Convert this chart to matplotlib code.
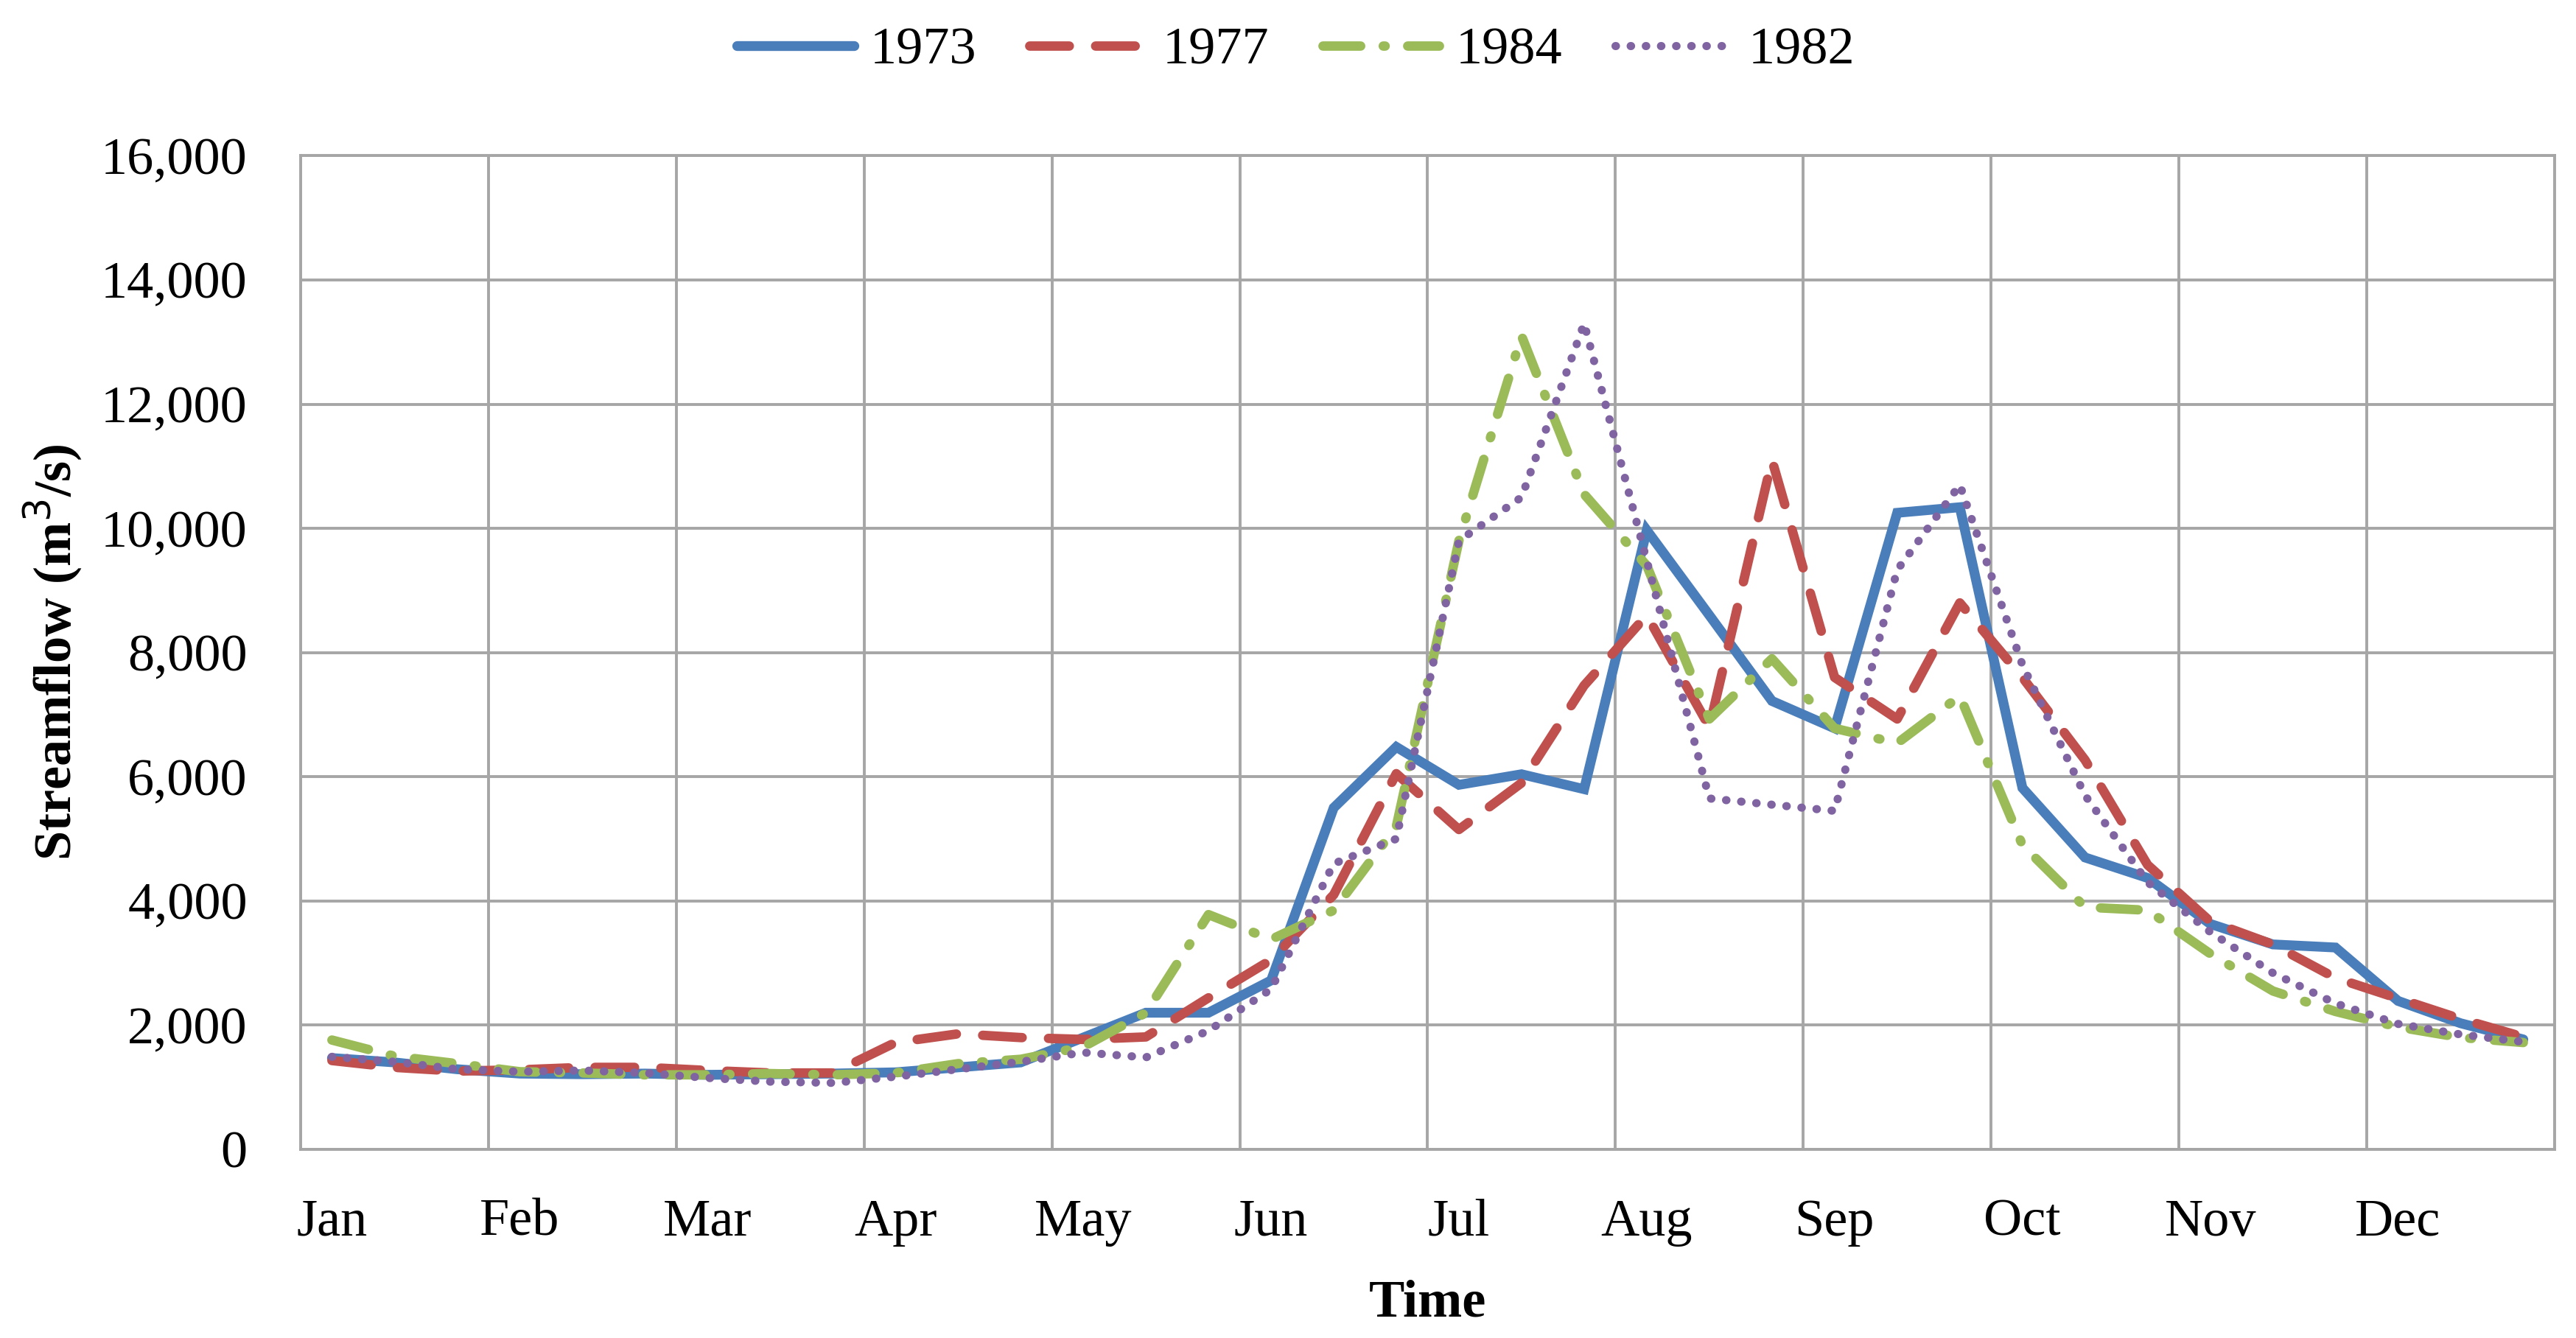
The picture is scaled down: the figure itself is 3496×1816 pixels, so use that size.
import numpy as np
import matplotlib
matplotlib.use("Agg")
import matplotlib.pyplot as plt

# ten-day (dekad) streamflow, 3 values per month
months = ["Jan", "Feb", "Mar", "Apr", "May", "Jun",
          "Jul", "Aug", "Sep", "Oct", "Nov", "Dec"]

flow_1973 = [1470, 1400, 1290, 1220, 1210, 1220, 1200, 1210, 1220,
             1240, 1320, 1400, 1800, 2200, 2200, 2720, 5500, 6480,
             5870, 6040, 5800, 9970, 8600, 7220, 6780, 10250, 10340,
             5820, 4700, 4370, 3630, 3300, 3250, 2390, 2030, 1770]

flow_1977 = [1430, 1320, 1260, 1280, 1320, 1320, 1270, 1230, 1230,
             1720, 1860, 1800, 1770, 1810, 2440, 3050, 4100, 6050,
             5150, 5900, 7470, 8600, 6800, 11100, 7600, 6930, 8800,
             7600, 6270, 4580, 3670, 3300, 2760, 2430, 2100, 1810]

flow_1984 = [1760, 1500, 1380, 1250, 1230, 1200, 1200, 1220, 1200,
             1230, 1380, 1450, 1650, 2200, 3780, 3380, 3850, 5200,
             9800, 13100, 10550, 9400, 6930, 7900, 6780, 6540, 7300,
             4900, 3900, 3850, 3150, 2550, 2220, 1970, 1800, 1720]

flow_1982 = [1490, 1410, 1290, 1250, 1270, 1230, 1150, 1090, 1070,
             1170, 1290, 1410, 1560, 1480, 1910, 2580, 4600, 5000,
             9800, 10500, 13300, 9480, 5650, 5550, 5450, 9330, 10700,
             7800, 5700, 4300, 3500, 2840, 2350, 2020, 1850, 1730]

y_ticks = [0, 2000, 4000, 6000, 8000, 10000, 12000, 14000, 16000]

plt.rcParams['font.family'] = ['Liberation Serif', 'DejaVu Serif']
fs = 26

fig = plt.figure(figsize=(17.48, 9.08), dpi=200)
ax = fig.add_axes([0.1167, 0.141, 0.875, 0.7426])

x = np.arange(len(flow_1973))
ax.plot(x, flow_1973, color='#4a7ebb', lw=4.8, label='1973',
        solid_capstyle='round', solid_joinstyle='miter', zorder=3)
ax.plot(x, flow_1977, color='#c0504d', lw=4.6, label='1977',
        dashes=(4.2, 2.8), dash_capstyle='round', zorder=3)
ax.plot(x, flow_1984, color='#9bbb59', lw=4.6, label='1984',
        dashes=(4.0, 2.4, 0.2, 2.4), dash_capstyle='round', zorder=3)
ax.plot(x, flow_1982, color='#8064a2', lw=4.0, label='1982',
        dashes=(0.05, 1.8), dash_capstyle='round', zorder=3)

ax.set_xlim(-0.5, len(x) - 0.5)
ax.set_ylim(0, 16000)
ax.set_yticks(y_ticks)
ax.set_yticklabels([f"{v:,}" for v in y_ticks])
ax.set_xticks(np.arange(0, len(x), 3))
ax.set_xticklabels(months)

# gridlines on month boundaries
ax.set_xticks(np.arange(-0.5, len(x), 3), minor=True)
ax.grid(True, which='minor', axis='x', color='#a6a6a6', lw=1.4)
ax.grid(True, which='major', axis='y', color='#a6a6a6', lw=1.4)
ax.set_axisbelow(True)
for s in ax.spines.values():
    s.set_color('#a6a6a6')
    s.set_linewidth(1.4)

ax.tick_params(axis='both', which='both', length=0, labelsize=fs)
ax.tick_params(axis='y', pad=26)
ax.tick_params(axis='x', pad=24)

ax.set_xlabel('Time', fontsize=fs, fontweight='bold', labelpad=16)
ax.set_ylabel('Streamflow (m$^3$/s)', fontsize=fs, fontweight='bold',
              labelpad=8)

fig.legend(loc='center', bbox_to_anchor=(0.503, 0.962), ncol=4,
           frameon=False, fontsize=fs, handlelength=2.2,
           columnspacing=1.0, handletextpad=0.3)

fig.savefig('out.png', dpi=200)
